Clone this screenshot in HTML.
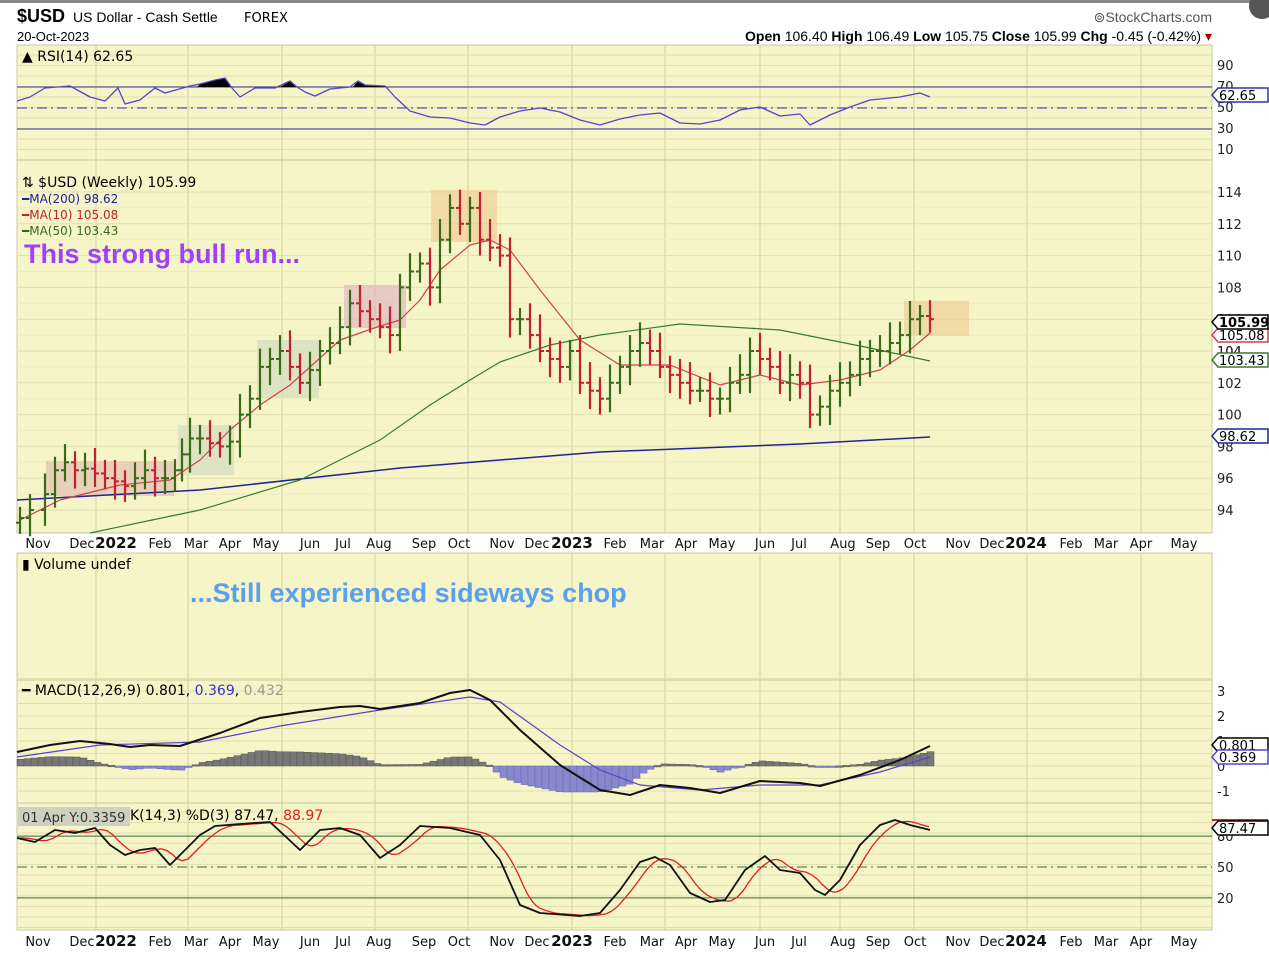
<!DOCTYPE html>
<html><head><meta charset="utf-8"><style>
body{margin:0;background:#fff;width:1269px;height:954px;overflow:hidden;font-family:"Liberation Sans",sans-serif}
svg{position:absolute;left:0;top:0}
text{font-family:"DejaVu Sans","Liberation Sans",sans-serif}
</style></head><body>
<svg id="s" width="1269" height="954" xmlns="http://www.w3.org/2000/svg">
<rect x="0" y="0" width="1269" height="3" fill="#888"/>
<text x="17" y="22" font-family="Liberation Sans" font-size="18" font-weight="bold" style="font-family:'Liberation Sans'">$USD</text>
<text x="73" y="22" font-size="14" style="font-family:'Liberation Sans'">US Dollar - Cash Settle</text>
<text x="244" y="22" font-size="13">FOREX</text>
<text x="17" y="41" font-size="13" style="font-family:'Liberation Sans'">20-Oct-2023</text>
<text x="1212" y="22" font-size="14" text-anchor="end" fill="#555" style="font-family:'Liberation Sans'">⊚StockCharts.com</text>
<text x="1212" y="41" font-size="14" text-anchor="end" style="font-family:'Liberation Sans'"><tspan font-weight="bold">Open</tspan> 106.40 <tspan font-weight="bold">High</tspan> 106.49 <tspan font-weight="bold">Low</tspan> 105.75 <tspan font-weight="bold">Close</tspan> 105.99 <tspan font-weight="bold">Chg</tspan> -0.45 (-0.42%) <tspan fill="#a00">▾</tspan></text>
<circle cx="1262" cy="6" r="13" fill="#555"/>
<g id="panels"></g>
</svg>
<script>
const S=document.getElementById('s'),G=document.getElementById('panels');
let h='';
const L=17,R=1212,BG='#f5f5c8',GR='#d8d8a8';
const vx=[96,188,282,375,468,572,665,760,840,914,1027,1141];
function panel(t,b){h+=`<rect x="${L}" y="${t}" width="${R-L}" height="${b-t}" fill="${BG}" stroke="#c8c8a0"/>`;
 for(const x of vx)h+=`<line x1="${x}" y1="${t}" x2="${x}" y2="${b}" stroke="#cfcf9c"/>`;}
function hl(y,c='#e0e0b0'){h+=`<line x1="${L}" y1="${y}" x2="${R}" y2="${y}" stroke="${c}"/>`;}
function lab(x,y,t,s=13,c='#000',a='start',w='normal'){h+=`<text x="${x}" y="${y}" font-size="${s}" fill="${c}" text-anchor="${a}" font-weight="${w}">${t}</text>`;}
function pl(pts,c,w=1.3){h+=`<polyline fill="none" stroke="${c}" stroke-width="${w}" stroke-linejoin="round" points="${pts.map(p=>p.join(',')).join(' ')}"/>`;}
function tag(y,t,c,bold){h+=`<path d="M1212 ${y} l6 -7 h50 v14 h-50z" fill="#fff" stroke="${c}" stroke-width="1.5"/>`;lab(1219,y+5,t,13,'#000','start',bold?'bold':'normal');}
const interp=(a,x)=>{if(x<=a[0][0])return a[0][1];for(let i=1;i<a.length;i++)if(x<=a[i][0]){const t=(x-a[i-1][0])/(a[i][0]-a[i-1][0]);return a[i-1][1]+t*(a[i][1]-a[i-1][1]);}return a[a.length-1][1];};
// RSI
panel(45,160);
for(let y=55;y<160;y+=10.5)hl(y);
for(const [v,y] of [[90,65],[70,86],[50,107],[30,128],[10,149]])lab(1217,y+5,v,13,'#222');
hl(87,'#3333aa');hl(129,'#3333aa');
h+=`<line x1="${L}" y1="108" x2="${R}" y2="108" stroke="#3333aa" stroke-dasharray="10,4,2,4"/>`;
const rsi=[[17,101],[30,97],[45,88],[70,86],[90,97],[105,101],[118,88],[125,104],[140,100],[155,88],[165,93],[190,86],[200,84],[215,80],[225,78],[232,88],[240,97],[255,88],[275,88],[290,81],[297,87],[305,92],[315,96],[330,89],[350,87],[358,81],[365,85],[385,86],[395,97],[410,111],[430,117],[450,118],[470,123],[485,125],[500,117],[520,111],[540,108],[560,112],[580,120],[600,125],[620,119],[640,115],[660,113],[680,123],[700,124],[720,120],[740,110],[760,107],[780,116],[800,114],[810,125],[830,115],[850,107],[870,100],[900,97],[920,93],[930,97]];
h+=`<path d="M197 87 L200 84 L215 80 L225 78 L231 87Z M280 87 L290 81 L296 87Z M353 87 L358 81 L365 85 L385 86 L387 87Z" fill="#000"/>`;
pl(rsi,'#5544cc');
lab(22,61,'▲ RSI(14) 62.65',14);
tag(95,'62.65','#3333aa');
// Price
panel(160,533);
const py=p=>192+(114-p)*15.9;
for(let p=94;p<=114;p+=2){hl(py(p));lab(1217,py(p)+5,p,13,'#222');}
for(let p=95;p<=113;p+=2)hl(py(p),'#ebebbe');
h+=`<rect x="46" y="461" width="128" height="35" fill="#e6c0b0" opacity=".7"/><rect x="178" y="425" width="56" height="50" fill="#d8e0c0" opacity=".8"/><rect x="257" y="340" width="62" height="58" fill="#d8e0c0" opacity=".8"/><rect x="344" y="285" width="62" height="43" fill="#e0b8c0" opacity=".7"/><rect x="431" y="190" width="66" height="52" fill="#f0c890" opacity=".6"/><rect x="904" y="301" width="65" height="35" fill="#f0c890" opacity=".6"/>`;
pl([[17,500],[200,490],[400,468],[600,452],[800,444],[930,437]],'#222299',1.5);
pl([[90,533],[200,510],[300,480],[380,440],[430,405],[470,380],[500,362],[550,345],[600,335],[680,324],[780,330],[870,348],[930,361]],'#3a7a2a',1.2);
pl([[20,520],[60,500],[120,485],[170,480],[200,460],[230,430],[260,405],[290,385],[340,340],[380,326],[400,320],[420,300],[440,270],[470,245],[490,240],[510,250],[540,290],[580,340],[620,365],[670,365],[720,385],[760,375],[800,385],[840,380],[880,370],[910,350],[930,333]],'#d04050',1.2);
const cl=[[20,93.5],[30,94],[45,95],[55,96.5],[65,97],[75,96.5],[85,96.6],[95,96.3],[105,96],[115,95.8],[125,95.5],[135,96],[145,96.5],[155,96],[165,96],[175,96.5],[182,97.5],[190,98.5],[200,98.5],[210,98.2],[220,98],[230,98.3],[240,100],[250,101],[260,103],[270,103.5],[280,104],[290,103],[300,102],[310,102.8],[320,104],[330,104.5],[340,105.5],[350,107],[360,106.5],[370,106],[380,105.5],[390,105],[400,108],[410,109],[420,109.5],[430,108],[440,111],[450,113],[460,112],[470,113],[480,111],[490,110.5],[500,110],[510,106],[520,106],[530,105],[540,104],[550,103.5],[560,103],[570,104],[580,102],[590,101.5],[600,101],[610,102],[620,103],[630,104],[640,104.5],[650,104],[660,103],[670,102.5],[680,102],[690,101.5],[700,101.5],[710,101],[720,101],[730,102],[740,102.5],[750,104],[760,103.5],[770,103],[780,102],[790,102.5],[800,102],[810,100],[820,100.5],[830,101.5],[840,102],[850,102.5],[860,103.5],[870,104],[880,104],[890,104.5],[900,105],[910,106],[920,106.2],[930,106]];
for(let i=0;i<cl.length;i++){const [x,c]=cl[i],pv=i?cl[i-1][1]:c-.3,up=c>=pv,col=up?'#3a6a1a':'#c02030';
 const hi=Math.max(c,pv)+0.7+((i*7)%5)*0.15,lo=Math.min(c,pv)-0.7-((i*3)%4)*0.15;
 h+=`<line x1="${x}" y1="${py(hi)}" x2="${x}" y2="${py(lo)}" stroke="${col}" stroke-width="2.2"/><line x1="${x-4}" y1="${py(pv)}" x2="${x}" y2="${py(pv)}" stroke="${col}" stroke-width="2"/><line x1="${x}" y1="${py(c)}" x2="${x+4}" y2="${py(c)}" stroke="${col}" stroke-width="2"/>`;}
lab(22,187,'⇅ $USD (Weekly) 105.99',14);
lab(22,203,'━MA(200) 98.62',12,'#222299');lab(22,219,'━MA(10) 105.08',12,'#c02030');lab(22,235,'━MA(50) 103.43',12,'#3a6a1a');
h+=`<text x="24" y="263" font-size="27" font-weight="bold" fill="#a040ff" style="font-family:'Liberation Sans'">This strong bull run...</text>`;
tag(335,'105.08','#d04050');lab(1217,356,'104',13,'#222');tag(360,'103.43','#3a7a2a');tag(436,'98.62','#222299');tag(322,'105.99','#000',true);
// x labels
const xl=[['Nov',38],['Dec',82],['2022',116,1],['Feb',160],['Mar',196],['Apr',230],['May',266],['Jun',310],['Jul',343],['Aug',379],['Sep',424],['Oct',459],['Nov',502],['Dec',537],['2023',572,1],['Feb',615],['Mar',652],['Apr',686],['May',722],['Jun',765],['Jul',799],['Aug',843],['Sep',878],['Oct',915],['Nov',958],['Dec',992],['2024',1026,1],['Feb',1071],['Mar',1106],['Apr',1141],['May',1184]];
for(const yy of [548,946])for(const [t,x,b] of xl)lab(x,yy,t,b?15:13,'#111','middle',b?'bold':'normal');
// Volume
panel(553,680);
lab(22,569,'▮ Volume undef',14);
h+=`<text x="190" y="602" font-size="27" font-weight="bold" fill="#5aa0f0" style="font-family:'Liberation Sans'">...Still experienced sideways chop</text>`;
// MACD
panel(680,803);
const my=v=>766-v*25;
for(let v=-1.5;v<=3.5;v+=0.5)hl(my(v));
for(const v of [3,2,0,-1])lab(1217,my(v)+5,v,13,'#222');
lab(1217,my(1)+5,'1',13,'#222');
const mb=[[17,752],[50,745],[80,741],[110,744],[130,747],[150,745],[180,746],[220,733],[260,718],[300,712],[340,707],[360,706],[380,709],[420,703],[450,693],[470,690],[490,700],[520,730],[560,765],[600,790],[630,795],[660,785],[690,788],[720,793],[760,781],[800,783],[820,786],[860,775],[900,760],[930,746]];
const ms=[[17,757],[100,745],[200,742],[280,726],[380,710],[470,697],[500,702],[560,745],[600,770],[640,785],[700,790],[760,785],[820,785],[880,772],[930,757]];
for(let x=20;x<=930;x+=7){let d=(interp(ms,x)-interp(mb,x));d=d<0?d*1.3:d*1.3;const neg=d<0;
 h+=`<rect x="${x-3}" y="${neg?766:766-d}" width="7" height="${Math.max(1.5,Math.abs(d))}" fill="${neg?'#8888cc':'#777'}" stroke="${neg?'#6666aa':'#555'}" stroke-width=".5"/>`;}
pl(ms,'#5544cc',1.2);pl(mb,'#111',2);
lab(22,695,'━ MACD(12,26,9) 0.801, <tspan fill="#3333cc">0.369</tspan>, <tspan fill="#999">0.432</tspan>',14);
tag(745,'0.801','#000');tag(757,'0.369','#5544cc');
// Stoch
panel(803,930);
const sy=v=>867-(v-50)*1.03;
for(let y=812;y<930;y+=10.5)hl(y);
hl(sy(80),'#3a6a3a');hl(sy(20),'#3a6a3a');
h+=`<line x1="${L}" y1="${sy(50)}" x2="${R}" y2="${sy(50)}" stroke="#3a6a3a" stroke-dasharray="10,4,2,4"/>`;
for(const v of [80,50,20])lab(1217,sy(v)+5,v,13,'#222');
const sk=[[17,838],[35,842],[55,830],[75,833],[95,828],[110,845],[125,855],[140,850],[155,848],[170,865],[185,850],[200,835],[215,826],[240,824],[270,822],[300,850],[320,830],[340,828],[360,835],[380,858],[400,845],[420,826],[450,828],[480,835],[500,860],[520,905],[540,913],[580,916],[600,913],[620,890],[640,862],[655,857],[670,865],[690,893],[710,902],[725,900],[745,870],[765,856],[780,870],[800,873],[815,890],[825,895],[840,880],[860,845],[880,825],[895,820],[910,825],[930,830]];
const sd=[];for(let x=17;x<=930;x+=3){sd.push([x,(interp(sk,x-6)+interp(sk,x-12)+interp(sk,x-18))/3]);}
pl(sd,'#e02020',1.3);pl(sk,'#111',1.8);
h+=`<rect x="18" y="807" width="112" height="19" fill="#d0d0c0"/>`;
lab(22,822,'01 Apr Y:0.3359',13,'#333');lab(130,820,'K(14,3) %D(3) 87.47, <tspan fill="#e02020">88.97</tspan>',14);
h+=`<line x1="1212" y1="820" x2="1268" y2="820" stroke="#e02020" stroke-width="2"/>`;
tag(828,'87.47','#000');
G.innerHTML=h;
</script>
</body></html>
